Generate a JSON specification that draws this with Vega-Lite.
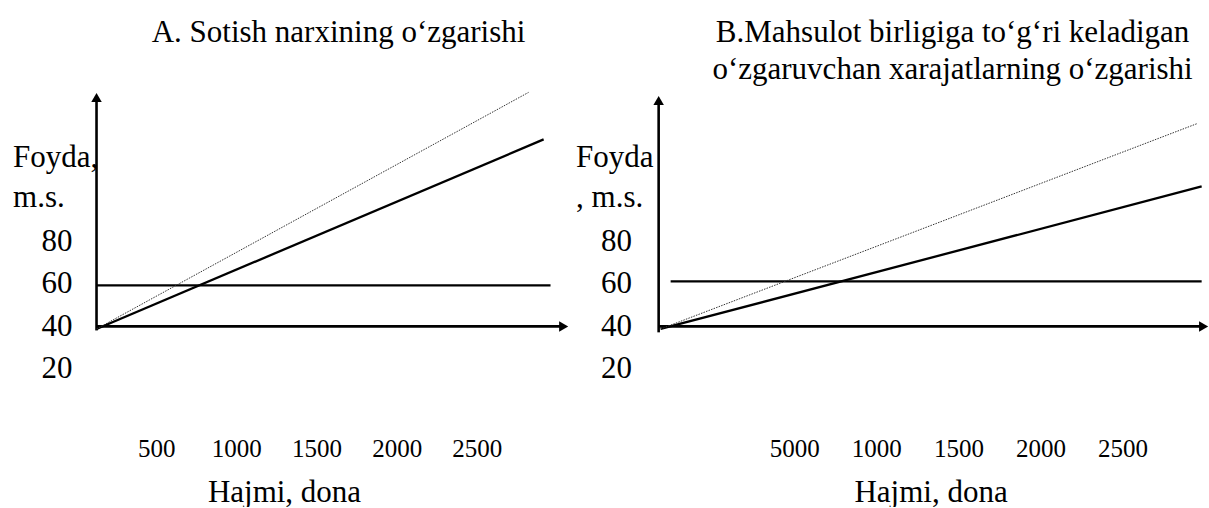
{
  "$schema": "https://vega.github.io/schema/vega-lite/v6.json",
  "padding": {"left": 12, "top": 17, "right": 0, "bottom": 0},
  "bounds": "flush",
  "spacing": 57.6,
  "config": {
    "font": "Liberation Serif",
    "view": {"stroke": null},
    "axis": {"domain": false, "ticks": false, "grid": false, "labelFont": "Liberation Serif", "titleFont": "Liberation Serif", "labelColor": "black", "titleColor": "black", "titleFontWeight": "normal"},
    "title": {"font": "Liberation Serif", "fontSize": 31, "fontWeight": "normal", "color": "black"}
  },
  "hconcat": [
    {
      "width": 513,
      "height": 334,
      "title": {"text": "A. Sotish narxining o‘zgarishi", "frame": "group", "anchor": "middle", "dx": 6, "offset": 13, "baseline": "alphabetic"},
      "data": {"values": [
        {"part": "axis", "x": 128, "y": 38.1, "x2": 128, "y2": 147.6},
        {"part": "axis", "x": 128, "y": 40, "x2": 3042, "y2": 40},
        {"part": "line", "x": 128, "y": 59.3, "x2": 2960, "y2": 59.3},
        {"part": "line", "x": 128, "y": 38.8, "x2": 2917, "y2": 127.9},
        {"part": "dotted", "x": 128, "y": 38.8, "x2": 2823, "y2": 150},
        {"part": "arrowUp", "x": 128, "y": 147.6},
        {"part": "arrowRight", "x": 3042, "y": 40}
      ]},
      "encoding": {
        "x": {"field": "x", "type": "quantitative", "scale": {"domain": [0, 3200], "nice": false, "zero": false},
          "axis": {"values": [500, 1000, 1500, 2000, 2500], "format": "d", "labelFontSize": 25, "labelPadding": 36, "labelBaseline": "alphabetic", "labelFlush": false,
            "title": "Hajmi, dona", "titleFontSize": 31, "titleX": 208, "titleY": 81, "titleBaseline": "alphabetic", "titleAlign": "center"}},
        "y": {"field": "y", "type": "quantitative", "scale": {"domain": [-4, 153], "nice": false, "zero": false},
          "axis": {"values": [20, 40, 60, 80], "labelFontSize": 31, "labelPadding": 4, "labelBaseline": "middle", "labelFlush": false,
            "title": ["Foyda,", "m.s."], "titleFontSize": 31, "titleAngle": 0, "titleAlign": "left", "titleBaseline": "alphabetic", "titleX": -63.4, "titleY": 80, "titleLineHeight": 40}}
      },
      "layer": [
        {"transform": [{"filter": "datum.part == 'axis'"}], "mark": {"type": "rule", "color": "black", "strokeWidth": 2.6}, "encoding": {"x2": {"field": "x2"}, "y2": {"field": "y2"}}},
        {"transform": [{"filter": "datum.part == 'line'"}], "mark": {"type": "rule", "color": "black", "strokeWidth": 2.3}, "encoding": {"x2": {"field": "x2"}, "y2": {"field": "y2"}}},
        {"transform": [{"filter": "datum.part == 'dotted'"}], "mark": {"type": "rule", "color": "#333333", "strokeWidth": 1, "strokeDash": [1.5, 1.2]}, "encoding": {"x2": {"field": "x2"}, "y2": {"field": "y2"}}},
        {"transform": [{"filter": "datum.part == 'arrowUp'"}], "mark": {"type": "point", "shape": "triangle-up", "filled": true, "color": "black", "opacity": 1, "size": 110}},
        {"transform": [{"filter": "datum.part == 'arrowRight'"}], "mark": {"type": "point", "shape": "triangle-right", "filled": true, "color": "black", "opacity": 1, "size": 110}}
      ]
    },
    {
      "width": 558,
      "height": 334,
      "title": {"text": ["B.Mahsulot birligiga to‘g‘ri keladigan", "o‘zgaruvchan xarajatlarning o‘zgarishi"], "lineHeight": 37, "frame": "group", "anchor": "middle", "dx": 27, "offset": -24, "baseline": "alphabetic"},
      "data": {"values": [
        {"part": "axis", "x": -326.6, "y": 37.2, "x2": -326.6, "y2": 146.2},
        {"part": "axis", "x": -326.6, "y": 40, "x2": 2994, "y2": 40},
        {"part": "line", "x": -253.5, "y": 61.2, "x2": 2982, "y2": 61.2},
        {"part": "line", "x": -314.4, "y": 38.8, "x2": 2982, "y2": 105.8},
        {"part": "dotted", "x": -314.4, "y": 38.8, "x2": 2957, "y2": 135.4},
        {"part": "arrowUp", "x": -326.6, "y": 146.2},
        {"part": "arrowRight", "x": 2994, "y": 40}
      ]},
      "encoding": {
        "x": {"field": "x", "type": "quantitative", "scale": {"domain": [-400, 3000], "nice": false, "zero": false},
          "axis": {"values": [500, 1000, 1500, 2000, 2500], "format": "d", "labelExpr": "datum.value == 500 ? '5000' : datum.label", "labelFontSize": 25, "labelPadding": 36, "labelBaseline": "alphabetic", "labelFlush": false,
            "title": "Hajmi, dona", "titleFontSize": 31, "titleX": 284, "titleY": 81, "titleBaseline": "alphabetic", "titleAlign": "center"}},
        "y": {"field": "y", "type": "quantitative", "scale": {"domain": [-4, 153], "nice": false, "zero": false},
          "axis": {"values": [20, 40, 60, 80], "labelFontSize": 31, "labelPadding": 15, "labelBaseline": "middle", "labelFlush": false,
            "title": ["Foyda", ", m.s."], "titleFontSize": 31, "titleAngle": 0, "titleAlign": "left", "titleBaseline": "alphabetic", "titleX": -71, "titleY": 80, "titleLineHeight": 40}}
      },
      "layer": [
        {"transform": [{"filter": "datum.part == 'axis'"}], "mark": {"type": "rule", "color": "black", "strokeWidth": 2.6}, "encoding": {"x2": {"field": "x2"}, "y2": {"field": "y2"}}},
        {"transform": [{"filter": "datum.part == 'line'"}], "mark": {"type": "rule", "color": "black", "strokeWidth": 2.3}, "encoding": {"x2": {"field": "x2"}, "y2": {"field": "y2"}}},
        {"transform": [{"filter": "datum.part == 'dotted'"}], "mark": {"type": "rule", "color": "#333333", "strokeWidth": 1, "strokeDash": [1.5, 1.2]}, "encoding": {"x2": {"field": "x2"}, "y2": {"field": "y2"}}},
        {"transform": [{"filter": "datum.part == 'arrowUp'"}], "mark": {"type": "point", "shape": "triangle-up", "filled": true, "color": "black", "opacity": 1, "size": 110}},
        {"transform": [{"filter": "datum.part == 'arrowRight'"}], "mark": {"type": "point", "shape": "triangle-right", "filled": true, "color": "black", "opacity": 1, "size": 110}}
      ]
    }
  ]
}
